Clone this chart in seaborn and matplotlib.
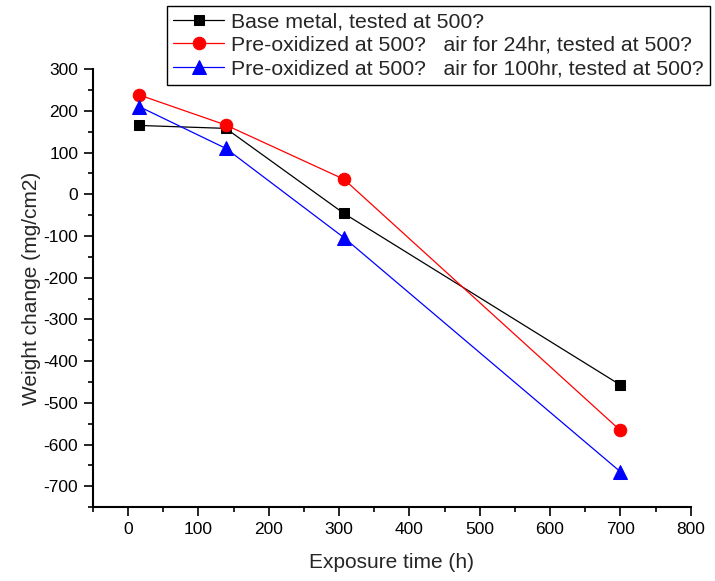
import numpy as np
import pandas as pd
import matplotlib
matplotlib.use("Agg")
import matplotlib.pyplot as plt
from matplotlib.ticker import MultipleLocator
import seaborn as sns

# 数据
exposure_time = [16, 139, 307, 700]
base_metal = [165, 158, -46, -457]
preox_24hr = [238, 166, 36, -566]
preox_100hr = [210, 110, -104, -665]

series_names = [
    "Base metal, tested at 500?",
    "Pre-oxidized at 500?   air for 24hr, tested at 500?",
    "Pre-oxidized at 500?   air for 100hr, tested at 500?",
]
series_colors = ["black", "red", "blue"]
series_markers = ["s", "o", "^"]
series_msize = [7.5, 9, 9.5]

sns.set_style("ticks")
plt.rcParams["font.family"] = ["Liberation Sans", "DejaVu Sans"]
plt.rcParams["axes.unicode_minus"] = False

df = pd.DataFrame({
    "time": exposure_time * 3,
    "change": base_metal + preox_24hr + preox_100hr,
    "series": np.repeat(series_names, len(exposure_time)),
})

fig = plt.figure(figsize=(7.15, 5.81), dpi=100)
ax = fig.add_axes([0.130, 0.127, 0.836, 0.754])

for name, c, m, ms in zip(series_names, series_colors, series_markers, series_msize):
    sub = df[df["series"] == name]
    sns.lineplot(data=sub, x="time", y="change", ax=ax, color=c, marker=m,
                 markersize=ms, markeredgecolor=c, markerfacecolor=c,
                 linewidth=0.9, label=name, sort=False)

ax.set_xlim(-50, 800)
ax.set_ylim(-750, 300)
ax.xaxis.set_minor_locator(MultipleLocator(50))
ax.yaxis.set_minor_locator(MultipleLocator(50))
ax.set_xticks(np.arange(0, 801, 100))
ax.set_yticks(np.arange(-700, 301, 100))

for side in ["top", "right"]:
    ax.spines[side].set_visible(False)
for side in ["left", "bottom"]:
    ax.spines[side].set_linewidth(1.5)
    ax.spines[side].set_color("black")

ax.tick_params(which="major", direction="out", length=6.5, width=1.2,
               labelsize=12.5, colors="black", pad=4)
ax.tick_params(which="minor", direction="out", length=3.5, width=1.2, colors="black")

ax.set_xlabel("Exposure time (h)", fontsize=15, labelpad=12)
ax.set_ylabel("Weight change (mg/cm2)", fontsize=15, labelpad=2)

leg = ax.legend(loc="upper left", bbox_to_anchor=(0.2336, 0.990),
                bbox_transform=fig.transFigure, borderaxespad=0,
                fontsize=15.3, frameon=True, fancybox=False, framealpha=1,
                edgecolor="black", handlelength=2.4, handletextpad=0.3,
                labelspacing=0.22, borderpad=0.3)
leg.get_frame().set_linewidth(1.0)

fig.savefig("out.png", dpi=100)
